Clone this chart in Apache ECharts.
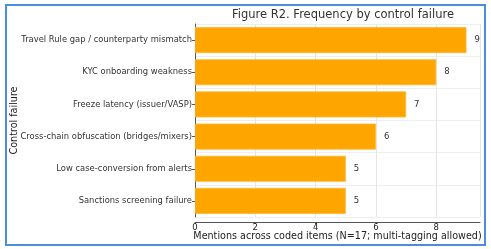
<!DOCTYPE html>
<html>
<head>
<meta charset="utf-8">
<script src="https://cdn.jsdelivr.net/npm/echarts@6/dist/echarts.min.js"></script>
<style>html,body{margin:0;padding:0;background:#fff}#c{width:491px;height:249px}</style>
</head>
<body>
<div id="c"></div>
<script>
var categories = [
  "Travel Rule gap / counterparty mismatch",
  "KYC onboarding weakness",
  "Freeze latency (issuer/VASP)",
  "Cross-chain obfuscation (bridges/mixers)",
  "Low case-conversion from alerts",
  "Sanctions screening failure"
];
var mentions = [9, 8, 7, 6, 5, 5];
var xTicks = [0, 2, 4, 6, 8];
var titleText = "Figure R2. Frequency by control failure";
var xName = "Mentions across coded items (N=17; multi-tagging allowed)";
var yName = "Control failure";

var chart = echarts.init(document.getElementById('c'), null, {renderer: 'canvas'});
var font = 'DejaVu Sans';
chart.setOption({
  animation: false,
  title: {
    text: titleText,
    left: 338, top: 4, textAlign: 'center',
    textStyle: {fontFamily: font, fontSize: 11.5, fontWeight: 'normal', color: '#333'}
  },
  graphic: [{
    type: 'rect', shape: {x: 6, y: 5, width: 479, height: 240},
    style: {fill: 'none', stroke: '#4a90d9', lineWidth: 2}, silent: true, z: 100
  }],
  grid: {left: 195, right: 11, top: 24, height: 193, containLabel: false, outerBoundsMode: 'none'},
  xAxis: {
    type: 'value', min: 0, max: 9.45, interval: 2, offset: 5,
    name: xName, nameLocation: 'middle', nameGap: 9, nameMoveOverlap: false,
    nameTextStyle: {fontFamily: font, fontSize: 9.6, color: '#222'},
    axisLine: {show: true, lineStyle: {color: '#555', width: 1}},
    axisTick: {show: true, length: 2, lineStyle: {color: '#555'}},
    axisLabel: {fontFamily: font, fontSize: 8.5, color: '#222', margin: 1, showMaxLabel: false},
    splitLine: {show: true, lineStyle: {color: '#e6e6e6', width: 1}}
  },
  yAxis: {
    type: 'category', data: categories, inverse: true,
    name: yName, nameLocation: 'middle', nameGap: 176, nameRotate: 90, nameMoveOverlap: false,
    nameTextStyle: {fontFamily: font, fontSize: 9.6, color: '#222'},
    axisLine: {show: true, lineStyle: {color: '#555', width: 1}},
    axisTick: {show: true, alignWithLabel: true, length: 3, lineStyle: {color: '#555'}},
    axisLabel: {fontFamily: font, fontSize: 8.4, color: '#333', margin: 3},
    splitLine: {show: true, interval: 0, lineStyle: {color: '#eeeeee', width: 1}}
  },
  series: [{
    type: 'bar', data: mentions, barWidth: 26,
    itemStyle: {color: '#FFA500', borderColor: '#FFB733', borderWidth: 0.8},
    label: {show: true, position: 'right', distance: 8, fontFamily: font, fontSize: 8.5, color: '#333'}
  }]
});
</script>
</body>
</html>
